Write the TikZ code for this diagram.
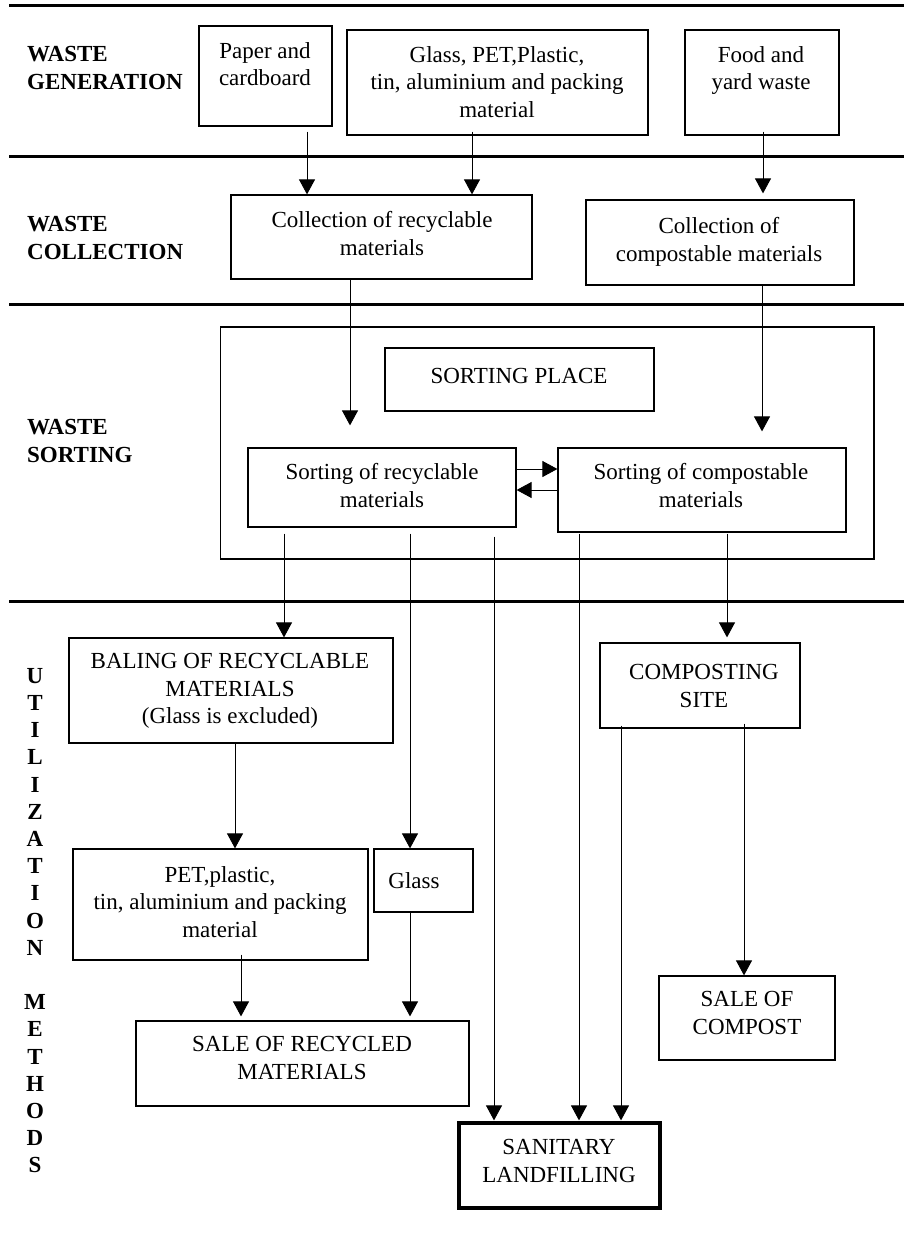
\documentclass[tikz,border=0pt]{standalone}
\usepackage{fontspec}
\setmainfont{Liberation Serif}
\usetikzlibrary{arrows.meta}
\begin{document}
\begin{tikzpicture}[x=1pt,y=-1pt,
  box/.style={draw, line width=1.2pt, inner sep=0pt},
  txt/.style={inner sep=0pt, anchor=north, align=center, font=\fontsize{23}{27.2}\selectfont},
  lbl/.style={inner sep=0pt, anchor=north west, align=left, font=\fontsize{23}{27.2}\selectfont\bfseries},
  sepline/.style={line width=3pt},
  arr/.style={line width=0.9pt, -{Triangle[length=15pt,width=16pt]}},
]
\useasboundingbox (0,0) rectangle (904,1246);

% separators
\draw[sepline] (9,6) -- (904,6);
\draw[sepline] (9,157) -- (904,157);
\draw[sepline] (9,304) -- (904,304);
\draw[sepline] (9,601) -- (904,601);

% row labels
\node[lbl] (lgen) at (27,46.5) {WASTE\\GENERATION};
\node[lbl] (lcol) at (27,216.5) {WASTE\\COLLECTION};
\node[lbl] (lsort) at (27,419.5) {WASTE\\SORTING};
\node[lbl, anchor=north, align=center] (lutil) at (35,668) {U\\T\\I\\L\\I\\Z\\A\\T\\I\\O\\N\\[27.2pt]M\\E\\T\\H\\O\\D\\S};

% boxes
\node[box, minimum width=133pt, minimum height=100pt] (paper) at (265.5,76) {};
\node[box, minimum width=301pt, minimum height=105pt] (glassg) at (497.5,82.5) {};
\node[box, minimum width=154pt, minimum height=105pt] (food) at (762,82.5) {};
\node[box, minimum width=301pt, minimum height=84pt] (collrec) at (381.5,237) {};
\node[box, minimum width=268pt, minimum height=85pt] (collcomp) at (720,242.5) {};
\node[box, minimum width=653.5pt, minimum height=232pt] (frame) at (547.25,443) {};
\node[box, minimum width=269pt, minimum height=63pt] (sortplace) at (519.5,379.5) {};
\node[box, minimum width=268pt, minimum height=79pt] (sortrec) at (382,487.5) {};
\node[box, minimum width=288pt, minimum height=84pt] (sortcomp) at (702,490) {};
\node[box, minimum width=324pt, minimum height=105pt] (baling) at (231,690.5) {};
\node[box, minimum width=200pt, minimum height=85pt] (compsite) at (700,685.5) {};
\node[box, minimum width=295pt, minimum height=111pt] (pet) at (220.5,904.5) {};
\node[box, minimum width=99pt, minimum height=63pt] (glasss) at (423.5,880.5) {};
\node[box, minimum width=333pt, minimum height=85pt] (salerec) at (302.5,1063.5) {};
\node[box, minimum width=176pt, minimum height=84pt] (salecomp) at (747,1018) {};
\node[box, line width=3.2pt, minimum width=201pt, minimum height=85pt] (landfill) at (559.5,1165.5) {};

% texts
\node[txt] (paper-t) at (265,42.5) {Paper and\\cardboard};
\node[txt] (glassg-t) at (497,46.5) {Glass, PET,Plastic,\\tin, aluminium and packing\\material};
\node[txt] (food-t) at (761,46.5) {Food and\\yard waste};
\node[txt] (collrec-t) at (382,211.5) {Collection of recyclable\\materials};
\node[txt] (collcomp-t) at (719,217.5) {Collection of\\compostable materials};
\node[txt] (sortplace-t) at (519,368.5) {SORTING PLACE};
\node[txt] (sortrec-t) at (382,463.5) {Sorting of recyclable\\materials};
\node[txt] (sortcomp-t) at (701,463.5) {Sorting of compostable\\materials};
\node[txt] (baling-t) at (230,653.5) {BALING OF RECYCLABLE\\MATERIALS\\(Glass is excluded)};
\node[txt] (compsite-t) at (704,664.5) {COMPOSTING\\SITE};
\node[txt] (pet-t) at (220,866.5) {PET,plastic,\\tin, aluminium and packing\\material};
\node[txt] (glasss-t) at (414,872.5) {Glass};
\node[txt] (salerec-t) at (302,1036.5) {SALE OF RECYCLED\\MATERIALS};
\node[txt] (salecomp-t) at (747,991.5) {SALE OF\\COMPOST};
\node[txt] (landfill-t) at (559,1139.5) {SANITARY\\LANDFILLING};

% x positions of connectors
\coordinate (xa) at (307,0);
\coordinate (xb) at (472,0);
\coordinate (xc) at (763,0);
\coordinate (xd) at (350,0);
\coordinate (xe) at (762,0);
\coordinate (xf) at (284,0);
\coordinate (xg) at (410,0);
\coordinate (xh) at (494,0);
\coordinate (xi) at (579,0);
\coordinate (xj) at (727,0);
\coordinate (xk) at (621,0);
\coordinate (xl) at (744,0);
\coordinate (xm) at (235,0);
\coordinate (xn) at (241,0);
\coordinate (ya) at (0,469);
\coordinate (yb) at (0,490);

% connectors
\draw[arr, shorten <=5pt] (paper.south -| xa) -- (collrec.north -| xa);
\draw[arr, shorten <=-4pt] (glassg.south -| xb) -- (collrec.north -| xb);
\draw[arr, shorten <=-4pt, shorten >=6pt] (food.south -| xc) -- (collcomp.north -| xc);
\draw[arr, shorten >=22pt] (collrec.south -| xd) -- (sortrec.north -| xd);
\draw[arr, shorten >=16pt] (collcomp.south -| xe) -- (sortcomp.north -| xe);
\draw[arr] (sortrec.east |- ya) -- (sortcomp.west |- ya);
\draw[arr] (sortcomp.west |- yb) -- (sortrec.east |- yb);
\draw[arr, shorten <=6pt] (sortrec.south -| xf) -- (baling.north -| xf);
\draw[arr, shorten <=6pt] (sortrec.south -| xg) -- (glasss.north -| xg);
\draw[arr, shorten <=9pt, shorten >=1pt] (sortrec.south -| xh) -- (landfill.north -| xh);
\draw[arr, shorten <=1pt, shorten >=1pt] (sortcomp.south -| xi) -- (landfill.north -| xi);
\draw[arr, shorten <=1pt, shorten >=5pt] (sortcomp.south -| xj) -- (compsite.north -| xj);
\draw[arr, shorten <=-3pt, shorten >=1pt] (compsite.south -| xk) -- (landfill.north -| xk);
\draw[arr, shorten <=-5pt] (compsite.south -| xl) -- (salecomp.north -| xl);
\draw[arr] (baling.south -| xm) -- (pet.north -| xm);
\draw[arr, shorten <=-6pt, shorten >=4pt] (pet.south -| xn) -- (salerec.north -| xn);
\draw[arr, shorten >=4pt] (glasss.south -| xg) -- (salerec.north -| xg);
\end{tikzpicture}
\end{document}
